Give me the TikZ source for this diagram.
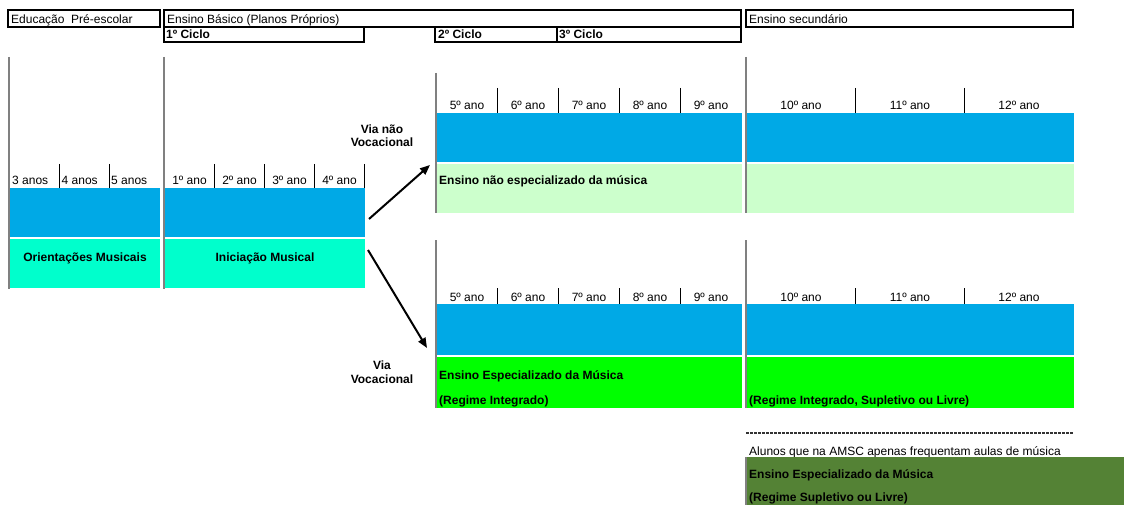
\documentclass[tikz,border=0pt]{standalone}
\usepackage{fontspec}
\setmainfont{Liberation Sans}
\usetikzlibrary{arrows.meta,positioning}
\definecolor{anoblue}{RGB}{0,169,230}
\definecolor{aquagreen}{RGB}{0,255,204}
\definecolor{palegreen}{RGB}{204,255,204}
\definecolor{vivgreen}{RGB}{0,255,0}
\definecolor{mossgreen}{RGB}{84,130,53}
% header box: name, x1, y1, x2, y2, text
\newcommand{\levelbox}[6]{
  \draw[boxline] (#2,#3) rectangle (#4,#5);
  \node[plaintext] (#1) at ({#2+3},{#5-3.5}) {#6};
}
% coloured band: name, colour, x1, y1, x2, y2
\newcommand{\colband}[6]{
  \node[band, fill=#2, minimum width={#5-#3}, minimum height={#6-#4}] (#1) at (#3,#4) {};
}
\tikzset{
  boxline/.style   = {draw=black, line width=1.2},
  plaintext/.style = {anchor=base west, inner sep=0pt, font=\fontsize{12}{14}\selectfont},
  boldtext/.style  = {plaintext, font=\fontsize{12}{14}\selectfont\bfseries},
  yeartext/.style  = {plaintext, anchor=base},
  band/.style      = {anchor=north west, inner sep=0pt, outer sep=0pt, draw=none},
  divider/.style   = {draw=gray, line width=2},
  yeartick/.style  = {draw=black, line width=1},
  viaarrow/.style  = {draw=black, line width=2, -{Triangle[length=10,width=8]}},
  dotline/.style   = {draw=black!80, line width=1.8, dash pattern=on 3 off 1}
}

\begin{document}
\begin{tikzpicture}[x=1pt,y=-1pt]
	\useasboundingbox (0,0) rectangle (1126,505);
	\clip (0,0) rectangle (1126,505);

	% headers
	\levelbox{pre}{8}{10}{160}{27}{Educação~~Pré-escolar}
	\levelbox{basico}{164}{10}{741}{27}{Ensino Básico (Planos Próprios)}
	\levelbox{sec}{746}{10}{1073}{27}{Ensino secundário}
	\draw[boxline] (164,27) rectangle (364,42);
	\node[boldtext] (ciclo1) at (166,39) {1º Ciclo};
	\draw[boxline] (435,27) rectangle (557,42);
	\node[boldtext] (ciclo2) at (438,39) {2º Ciclo};
	\draw[boxline] (557,27) rectangle (741,42);
	\node[boldtext] (ciclo3) at (559,39) {3º Ciclo};

	% dividers
	\draw[divider] (9,57) -- (9,289);
	\draw[divider] (164,57) -- (164,289);
	\draw[divider] (436,73) -- (436,213);
	\draw[divider] (746,57) -- (746,213);
	\draw[divider] (436,240) -- (436,408);
	\draw[divider] (746,240) -- (746,408);
	\draw[divider] (746,457) -- (746,505);

	% pre-escolar and 1o ciclo
	\colband{peblue}{anoblue}{10}{188}{160}{237}
	\colband{peom}{aquagreen}{10}{239}{160}{288}
	\colband{c1blue}{anoblue}{165}{188}{365}{237}
	\colband{c1im}{aquagreen}{165}{239}{365}{288}
	\foreach \x in {59,109}
		\draw[yeartick] (\x,164) -- (\x,188);
	\foreach \x in {214,264,314,364}
		\draw[yeartick] (\x,164) -- (\x,188);
	\foreach \t [count=\i] in {3 anos,4 anos,5 anos}
		\node[plaintext] (pe\i) at ({12+49.5*(\i-1)},185) {\t};
	\foreach \t [count=\i] in {1º ano,2º ano,3º ano,4º ano}
		\node[yeartext] (c1y\i) at ({189.5+50*(\i-1)},185) {\t};
	\node[boldtext, anchor=base] (om) at (85,261) {Orientações Musicais};
	\node[boldtext, anchor=base] (im) at (265,261) {Iniciação Musical};

	% via nao vocacional
	\colband{nvblue}{anoblue}{437}{113}{742}{162}
	\colband{nvgreen}{palegreen}{437}{164}{742}{213}
	\colband{nsblue}{anoblue}{747}{113}{1074}{162}
	\colband{nsgreen}{palegreen}{747}{164}{1074}{213}
	\foreach \x in {497,558,619,680}
		\draw[yeartick] (\x,88) -- (\x,113);
	\foreach \x in {855,964}
		\draw[yeartick] (\x,88) -- (\x,113);
	\foreach \t [count=\i] in {5º ano,6º ano,7º ano,8º ano,9º ano}
		\node[yeartext] (nvy\i) at ({467+61*(\i-1)},110) {\t};
	\foreach \t [count=\i] in {10º ano,11º ano,12º ano}
		\node[yeartext] (nsy\i) at ({801+109*(\i-1)},110) {\t};
	\node[boldtext] (nvtext) at (439,185) {Ensino não especializado da música};
	\node[boldtext, anchor=base] (nvla) at (382,134) {Via não};
	\node[boldtext, anchor=base] (nvlb) at (382,147) {Vocacional};

	% via vocacional
	\colband{vblue}{anoblue}{437}{304}{742}{355}
	\colband{vgreen}{vivgreen}{437}{357}{742}{408}
	\colband{vsblue}{anoblue}{747}{304}{1074}{355}
	\colband{vsgreen}{vivgreen}{747}{357}{1074}{408}
	\foreach \x in {497,558,619,680}
		\draw[yeartick] (\x,288) -- (\x,304);
	\foreach \x in {855,964}
		\draw[yeartick] (\x,288) -- (\x,304);
	\foreach \t [count=\i] in {5º ano,6º ano,7º ano,8º ano,9º ano}
		\node[yeartext] (vy\i) at ({467+61*(\i-1)},301) {\t};
	\foreach \t [count=\i] in {10º ano,11º ano,12º ano}
		\node[yeartext] (vsy\i) at ({801+109*(\i-1)},301) {\t};
	\node[boldtext] (vtexta) at (439,379) {Ensino Especializado da Música};
	\node[boldtext] (vtextb) at (439,404) {(Regime Integrado)};
	\node[boldtext] (vstext) at (749,404) {(Regime Integrado, Supletivo ou Livre)};
	\node[boldtext, anchor=base] (vla) at (382,369) {Via};
	\node[boldtext, anchor=base] (vlb) at (382,383) {Vocacional};

	% arrows
	\coordinate (nvstart) at (369,219);
	\coordinate (nvend) at (430,165);
	\coordinate (vstart) at (368,250);
	\coordinate (vend) at (427,348);
	\draw[viaarrow] (nvstart) -- (nvend);
	\draw[viaarrow] (vstart) -- (vend);

	% regime supletivo
	\coordinate (dla) at (746,433);
	\coordinate (dlb) at (1074,433);
	\draw[dotline] (dla) -- (dlb);
	\node[plaintext] (alunos) at (749,455) {Alunos que na AMSC apenas frequentam aulas de música};
	\colband{supband}{mossgreen}{747}{457}{1124}{510}
	\node[boldtext] (suptexta) at (749,478) {Ensino Especializado da Música};
	\node[boldtext] (suptextb) at (749,501.5) {(Regime Supletivo ou Livre)};
\end{tikzpicture}
\end{document}
